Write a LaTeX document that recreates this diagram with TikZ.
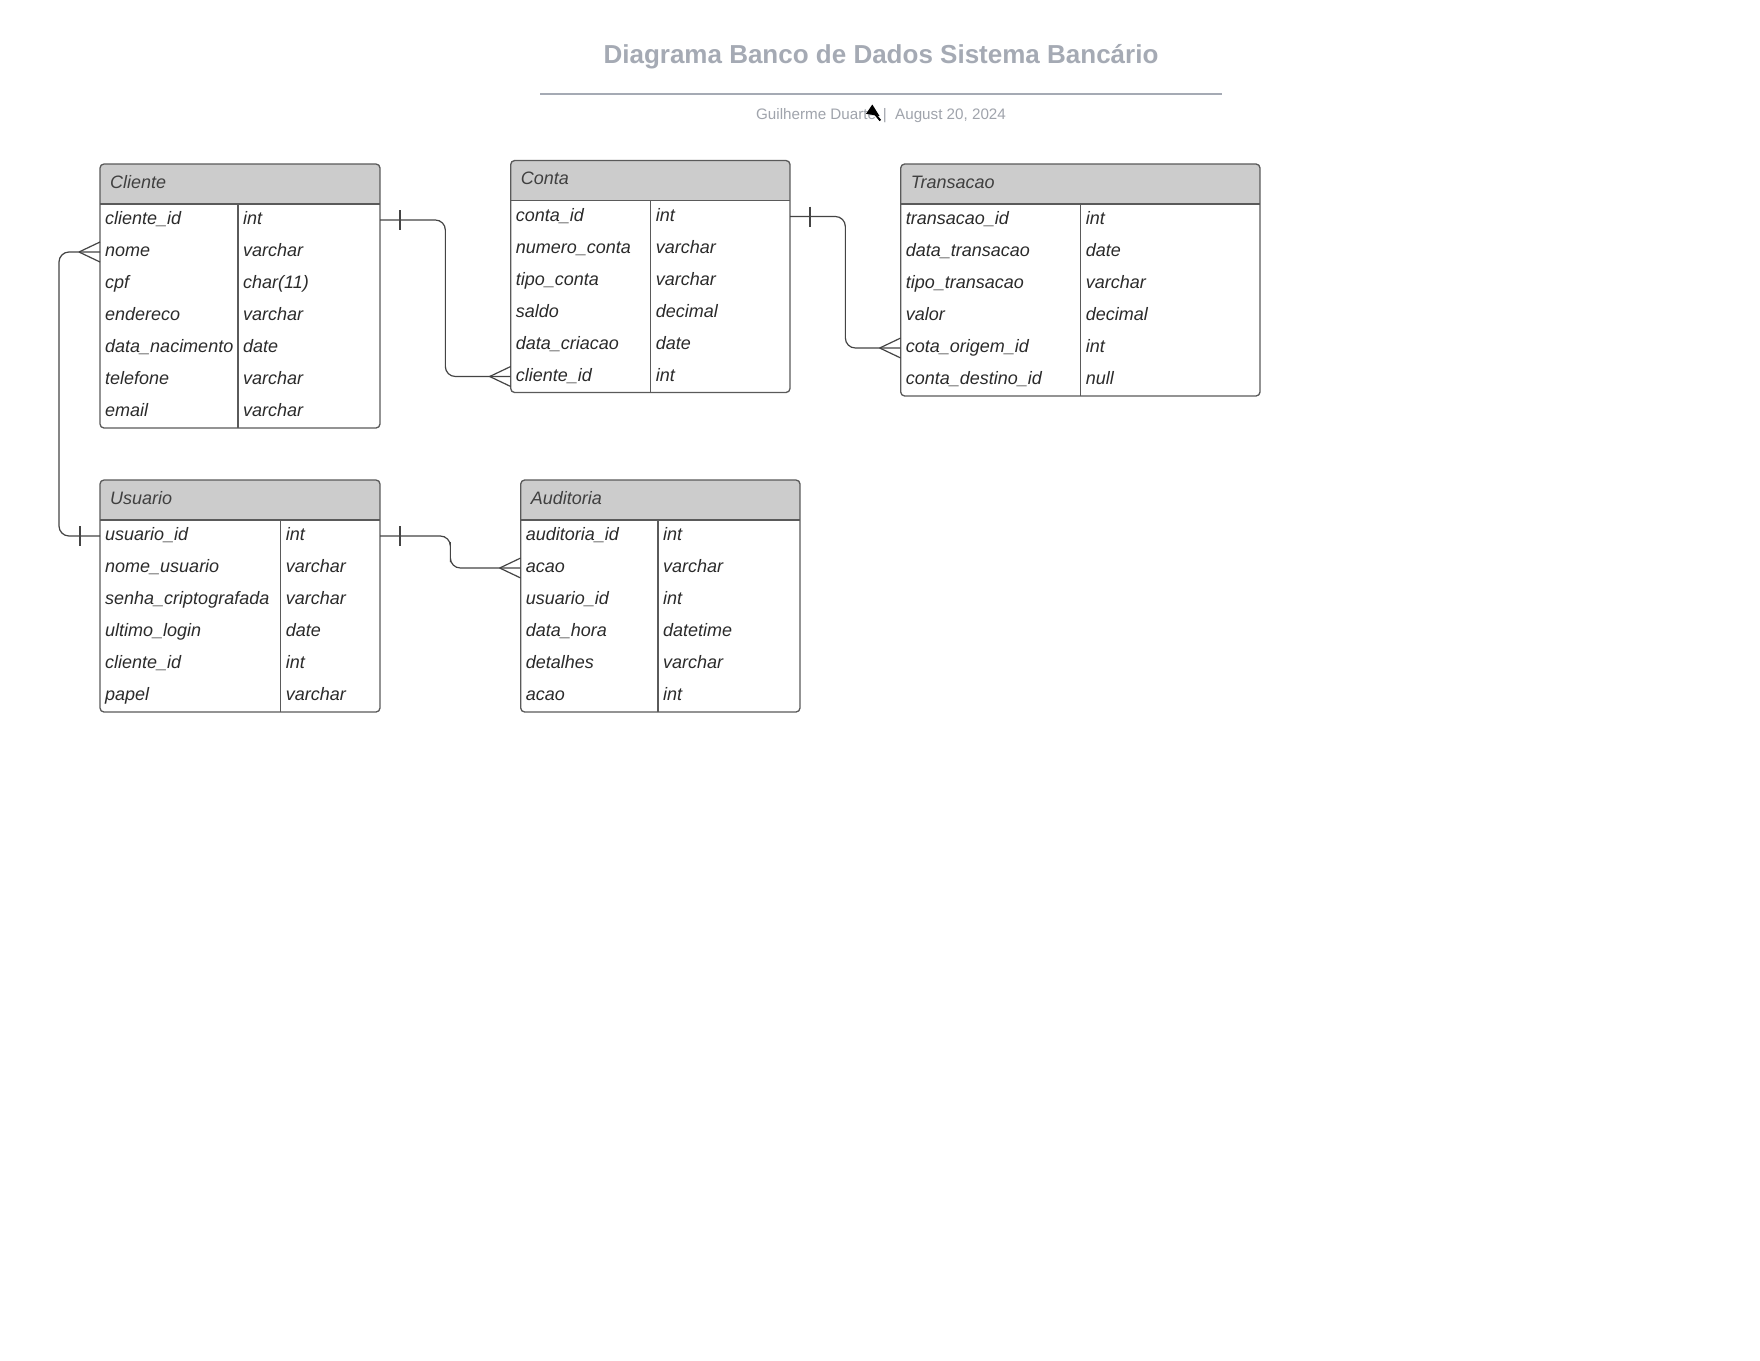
\documentclass[tikz,border=0pt]{standalone}
\usepackage{fontspec}
\setmainfont{Liberation Sans}
\usetikzlibrary{calc}
\definecolor{headfill}{HTML}{CCCCCC}
\definecolor{bordc}{HTML}{5A5A5A}
\definecolor{txtc}{HTML}{2B2B2B}
\definecolor{connc}{HTML}{444444}
\definecolor{titlec}{HTML}{A5AAB4}
\definecolor{subc}{HTML}{A0A4AC}
\tikzset{
  rowbox/.style={minimum height=32, inner sep=0, outer sep=0, draw=none},
  ftxt/.style={font=\itshape\fontsize{18}{21}\selectfont, text=txtc, inner sep=0, anchor=base west},
  htxt/.style={font=\itshape\fontsize{18}{21}\selectfont, text=txtc!90!white, inner sep=0, anchor=base west},
  tline/.style={draw=bordc, line width=1.1},
  tborder/.style={draw=bordc, line width=1.3, rounded corners=4, inner sep=0, outer sep=0},
  conn/.style={draw=connc, line width=1.2},
}
\newcommand\ertab[8]{%
  \begin{scope}
    \clip[rounded corners=4] (#2,#3) rectangle ++(#4,40+32*#6);
    \fill[white] (#2,#3) rectangle ++(#4,40+32*#6);
    \fill[headfill] (#2,#3) rectangle ++(#4,40);
  \end{scope}
  \node[htxt] (#1-h) at (#2+10,#3+24) {#7};
  \draw[tline] (#2,#3+40) -- ++(#4,0);
  \foreach [count=\i] \f/\t in {#8} {
    \node[rowbox, minimum width=#4] (#1-\i) at (#2+#4/2,#3+40+32*\i-16) {};
    \node[ftxt] (#1-\i-f) at ([xshift=5, yshift=-4.5]#1-\i.west) {\f};
    \node[ftxt] (#1-\i-t) at ([xshift={#5+5}, yshift=-4.5]#1-\i.west) {\t};
    \draw[tline] ([xshift=#5]#1-\i.north west) -- ([xshift=#5]#1-\i.south west);
  }
  \node[tborder, minimum width=#4, minimum height={40+32*#6}, anchor=north west] (#1) at (#2,#3) {};
}
\begin{document}
\begin{tikzpicture}[x=1pt, y=-1pt]
\useasboundingbox (0,0) rectangle (1760,1360);
\fill[white] (0,0) rectangle (1760,1360);

% title block
\node[font=\bfseries\fontsize{26}{30}\selectfont, text=titlec, inner sep=0] (title) at (881,57) {Diagrama Banco de Dados Sistema Bancário};
\coordinate (tl1) at (540,94);
\coordinate (tl2) at (1222,94);
\draw[draw=titlec, line width=2] (tl1) -- (tl2);
\node[font=\fontsize{15.2}{18}\selectfont, text=subc, inner sep=0] (sub) at (881,115.5) {Guilherme Duarte \,|\ \ August 20, 2024};
\fill[black] (872.3,104.5) -- (866,113.8) -- (879.5,116) -- cycle;
\draw[black, line width=2] (875,114) -- (880.3,120.5);

% tables
\ertab{cli}{100}{164}{280}{138}{7}{Cliente}{cliente\_id/int, nome/varchar, cpf/char(11), endereco/varchar, data\_nacimento/date, telefone/varchar, email/varchar}
\ertab{con}{510.7}{160.5}{279.3}{140}{6}{Conta}{conta\_id/int, numero\_conta/varchar, tipo\_conta/varchar, saldo/decimal, data\_criacao/date, cliente\_id/int}
\ertab{tra}{900.7}{164}{359.3}{180}{6}{Transacao}{transacao\_id/int, data\_transacao/date, tipo\_transacao/varchar, valor/decimal, cota\_origem\_id/int, conta\_destino\_id/null}
\ertab{usu}{100}{480}{280}{180.7}{6}{Usuario}{usuario\_id/int, nome\_usuario/varchar, senha\_criptografada/varchar, ultimo\_login/date, cliente\_id/int, papel/varchar}
\ertab{aud}{520.7}{480}{279.3}{137.3}{6}{Auditoria}{auditoria\_id/int, acao/varchar, usuario\_id/int, data\_hora/datetime, detalhes/varchar, acao/int}

% connectors
% Cliente.cliente_id -> Conta.cliente_id
\draw[conn, rounded corners=10] (cli-1.east) -| ($(cli-1.east)!0.5!(con-6.west)$) |- (con-6.west);
\draw[conn] ([xshift=20, yshift=10]cli-1.east) -- ([xshift=20, yshift=-10]cli-1.east);
\draw[conn] ([xshift=-21]con-6.west) -- ([yshift=10]con-6.west);
\draw[conn] ([xshift=-21]con-6.west) -- ([yshift=-10]con-6.west);

% Conta.conta_id -> Transacao.cota_origem_id
\draw[conn, rounded corners=10] (con-1.east) -| ($(con-1.east)!0.5!(tra-5.west)$) |- (tra-5.west);
\draw[conn] ([xshift=20, yshift=10]con-1.east) -- ([xshift=20, yshift=-10]con-1.east);
\draw[conn] ([xshift=-21]tra-5.west) -- ([yshift=10]tra-5.west);
\draw[conn] ([xshift=-21]tra-5.west) -- ([yshift=-10]tra-5.west);

% Cliente.nome -> Usuario.usuario_id
\draw[conn, rounded corners=10] (cli-2.west) -- ++(-41,0) |- (usu-1.west);
\draw[conn] ([xshift=-21]cli-2.west) -- ([yshift=10]cli-2.west);
\draw[conn] ([xshift=-21]cli-2.west) -- ([yshift=-10]cli-2.west);
\draw[conn] ([xshift=-20, yshift=10]usu-1.west) -- ([xshift=-20, yshift=-10]usu-1.west);

% Usuario.usuario_id -> Auditoria.acao
\draw[conn, rounded corners=10] (usu-1.east) -| ($(usu-1.east)!0.5!(aud-2.west)$) |- (aud-2.west);
\draw[conn] ([xshift=20, yshift=10]usu-1.east) -- ([xshift=20, yshift=-10]usu-1.east);
\draw[conn] ([xshift=-21]aud-2.west) -- ([yshift=10]aud-2.west);
\draw[conn] ([xshift=-21]aud-2.west) -- ([yshift=-10]aud-2.west);
\end{tikzpicture}
\end{document}
